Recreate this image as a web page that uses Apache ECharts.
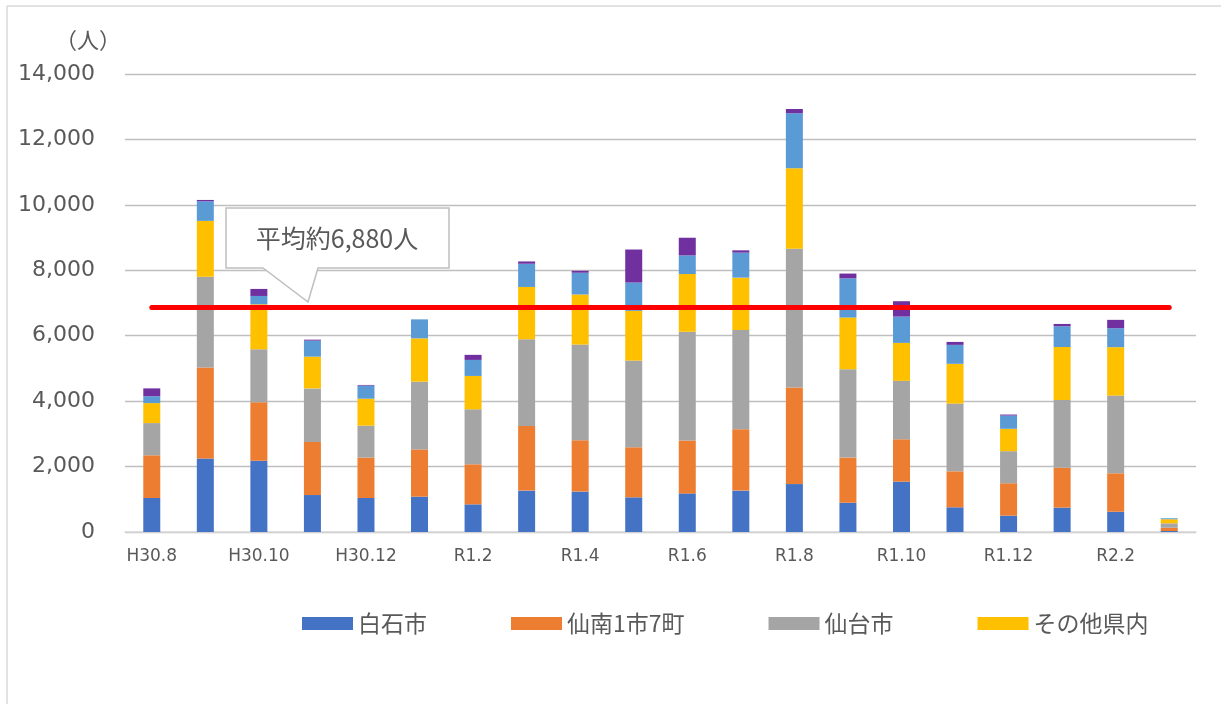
<!DOCTYPE html>
<html>
<head>
<meta charset="utf-8">
<script src="https://cdn.jsdelivr.net/npm/echarts@6/dist/echarts.min.js"></script>
<style>
  html, body { margin: 0; padding: 0; background: #fff; }
  #chart { width: 1221px; height: 704px; }
</style>
</head>
<body>
<div id="chart"></div>
<script>
// 月別 来訪者数（人）
const months = ['H30.8', 'H30.9', 'H30.10', 'H30.11', 'H30.12', 'R1.1', 'R1.2', 'R1.3', 'R1.4', 'R1.5',
  'R1.6', 'R1.7', 'R1.8', 'R1.9', 'R1.10', 'R1.11', 'R1.12', 'R2.1', 'R2.2', 'R2.3']
const shiroishi = [1040, 2250, 2180, 1130, 1040, 1080, 845, 1265, 1235, 1060, 1180, 1265, 1465, 895, 1540, 755, 500, 745, 620, 30]
const sennan = [1305, 2780, 1785, 1620, 1235, 1445, 1225, 1975, 1570, 1530, 1620, 1875, 2955, 1380, 1295, 1100, 990, 1220, 1175, 100]
const sendai = [985, 2770, 1620, 1640, 975, 2070, 1680, 2650, 2925, 2650, 3320, 3035, 4240, 2700, 1785, 2070, 980, 2070, 2375, 135]
const otherPref = [610, 1710, 1375, 970, 825, 1325, 1020, 1600, 1530, 1520, 1765, 1600, 2460, 1580, 1160, 1215, 685, 1620, 1480, 125]
const outside = [210, 600, 255, 490, 400, 580, 490, 710, 665, 865, 570, 765, 1680, 1200, 805, 580, 405, 635, 580, 30]
const others = [240, 40, 215, 30, 20, 0, 155, 70, 60, 1010, 540, 70, 130, 145, 470, 90, 30, 70, 255, 0]
const average = 6880
const yTicks = { min: 0, max: 14000, interval: 2000 }

const font = 'Noto Sans CJK JP'
const numFont = 'DejaVu Sans'
const textColor = '#595959'

const chart = echarts.init(document.getElementById('chart'))

const seriesDefs = [
  { name: '白石市', data: shiroishi, color: '#4472C4' },
  { name: '仙南1市7町', data: sennan, color: '#ED7D31' },
  { name: '仙台市', data: sendai, color: '#A5A5A5' },
  { name: 'その他県内', data: otherPref, color: '#FFC000' },
  { name: '県外', data: outside, color: '#5B9BD5' },
  { name: 'その他', data: others, color: '#7030A0' }
]

const series = seriesDefs.map(item => {
  return {
    type: 'bar',
    name: item.name,
    stack: 'total',
    barWidth: 17,
    data: item.data,
    itemStyle: { color: item.color },
    emphasis: { disabled: true }
  }
})

// 平均線
series[0].markLine = {
  silent: true,
  symbol: 'none',
  label: { show: false },
  lineStyle: { color: '#FF0000', width: 5, type: 'solid', cap: 'round' },
  data: [[
    { coord: [months[0], average] },
    { coord: [months[months.length - 1], average] }
  ]],
  z: 10
}

chart.setOption({
  animation: false,
  textStyle: { fontFamily: font },
  grid: {
    left: 125,
    right: 25,
    top: 74,
    bottom: 172
  },
  legend: {
    data: ['白石市', '仙南1市7町', '仙台市', 'その他県内'],
    left: 302,
    top: 612,
    itemWidth: 51,
    itemHeight: 13,
    itemGap: 84,
    padding: 0,
    icon: 'rect',
    selectedMode: false,
    textStyle: { fontSize: 23, color: textColor, fontFamily: font }
  },
  xAxis: {
    type: 'category',
    data: months,
    axisTick: { show: false },
    axisLine: { lineStyle: { color: '#D9D9D9', width: 1.5 } },
    axisLabel: {
      interval: 1,
      fontSize: 17,
      color: textColor,
      margin: 16,
      fontFamily: numFont
    }
  },
  yAxis: {
    type: 'value',
    min: yTicks.min,
    max: yTicks.max,
    interval: yTicks.interval,
    axisLine: { show: false },
    axisTick: { show: false },
    splitLine: { lineStyle: { color: '#BFBFBF', width: 1.3 } },
    axisLabel: {
      fontSize: 22,
      color: textColor,
      margin: 30,
      fontFamily: numFont,
      formatter: v => v.toLocaleString('en-US')
    }
  },
  series: series,
  graphic: [
    // 外枠
    { type: 'line', shape: { x1: 7, y1: 6, x2: 1221, y2: 6 }, style: { stroke: '#D9D9D9', lineWidth: 1.5 }, silent: true },
    { type: 'line', shape: { x1: 7, y1: 6, x2: 7, y2: 704 }, style: { stroke: '#D9D9D9', lineWidth: 1.5 }, silent: true },
    // 単位
    {
      type: 'text',
      x: 88,
      y: 40,
      style: { text: '（人）', font: '22px "Noto Sans CJK JP"', fill: textColor, textAlign: 'center', textVerticalAlign: 'middle' },
      silent: true
    },
    // 吹き出し
    {
      type: 'polygon',
      z: 100,
      shape: {
        points: [[226, 208], [449, 208], [449, 268], [318, 268], [308, 302], [263, 268], [226, 268]]
      },
      style: { fill: '#FFFFFF', stroke: '#BFBFBF', lineWidth: 1.5 },
      silent: true
    },
    {
      type: 'text',
      z: 101,
      x: 337,
      y: 238,
      style: { text: '平均約6,880人', font: '25px "Noto Sans CJK JP"', fill: textColor, textAlign: 'center', textVerticalAlign: 'middle' },
      silent: true
    }
  ]
})
</script>
</body>
</html>
